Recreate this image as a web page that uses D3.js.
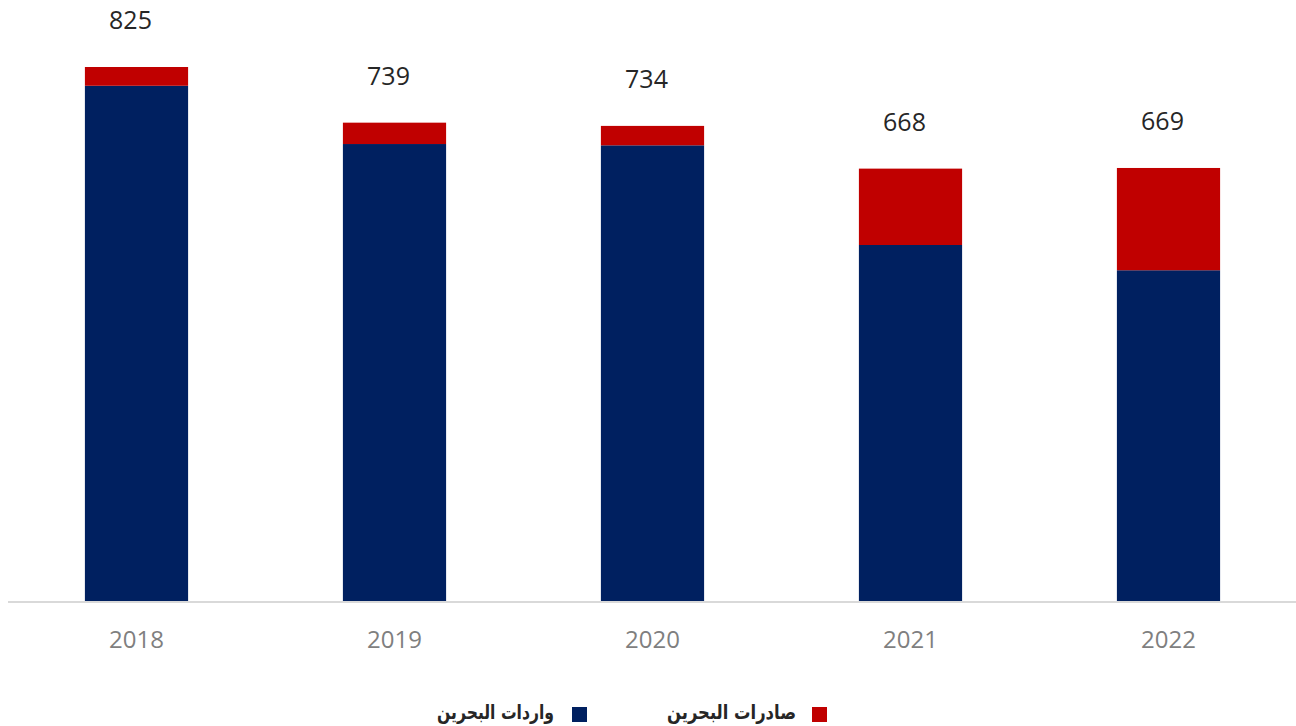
<!DOCTYPE html>
<html><head><meta charset="utf-8">
<script src="https://cdn.jsdelivr.net/npm/d3@7"></script>
<style>body{margin:0;background:#fff}svg{display:block}</style>
</head><body>
<svg id="c" width="1296" height="726"></svg>
<script>
const years = ["2018","2019","2020","2021","2022"];
const imports = [796, 706, 704, 550, 511];
const exports_ = [29, 33, 30, 118, 158];
const totals = [825, 739, 734, 668, 669];
const seriesNames = ["واردات البحرين", "صادرات البحرين"];
const colors = ["#002060", "#C00000"];

const svg = d3.select("#c");
const baseY = 601, topY = 67;
const x = d3.scaleBand().domain(years).range([7.5, 1297.5]).paddingInner(0.6).paddingOuter(0.3);
const y = d3.scaleLinear().domain([0, 825]).range([baseY, topY]);

const data = years.map((yr, i) => ({year: yr, imp: imports[i], exp: exports_[i], total: totals[i]}));
const stack = d3.stack().keys(["imp", "exp"])(data);

svg.selectAll("g.s").data(stack).join("g").attr("fill", (d, i) => colors[i])
  .selectAll("rect").data(d => d).join("rect")
  .attr("x", d => x(d.data.year))
  .attr("width", x.bandwidth())
  .attr("y", d => y(d[1]))
  .attr("height", d => y(d[0]) - y(d[1]));

// axis line
svg.append("line").attr("x1", 8).attr("x2", 1296).attr("y1", baseY + 1).attr("y2", baseY + 1)
  .attr("stroke", "#d9d9d9").attr("stroke-width", 2);

// x labels
const ax = svg.append("g").attr("transform", `translate(0,${baseY})`)
  .call(d3.axisBottom(x).tickSize(0).tickPadding(0));
ax.select(".domain").remove();
ax.selectAll("text").attr("dy", null).attr("y", 47)
  .attr("font-family", "'Open Sans', sans-serif").attr("font-size", 24).attr("fill", "#7f7f7f");

// total labels
svg.selectAll("text.tot").data(data).join("text").attr("class", "tot")
  .attr("x", d => x(d.year) + x.bandwidth() / 2 - 6)
  .attr("y", d => y(d.total) - 38)
  .attr("text-anchor", "middle")
  .attr("font-family", "'Open Sans', sans-serif").attr("font-size", 25).attr("fill", "#262626")
  .text(d => d3.format("d")(d.total));

// legend
const leg = [
  {name: seriesNames[1], color: colors[1], sx: 812, tx: 796, w: 129},
  {name: seriesNames[0], color: colors[0], sx: 572, tx: 554, w: 117}
];
const lg = svg.selectAll("g.leg").data(leg).join("g").attr("class", "leg");
lg.append("rect").attr("x", d => d.sx).attr("y", 707).attr("width", 15).attr("height", 15).attr("fill", d => d.color);
lg.append("text").attr("x", d => d.tx - d.w).attr("y", 719)
  .attr("textLength", d => d.w).attr("lengthAdjust", "spacingAndGlyphs")
  .attr("font-family", "'DejaVu Sans', sans-serif").attr("font-weight", "bold").attr("font-size", 20)
  .attr("fill", "#262626").text(d => d.name);
</script>
</body></html>
